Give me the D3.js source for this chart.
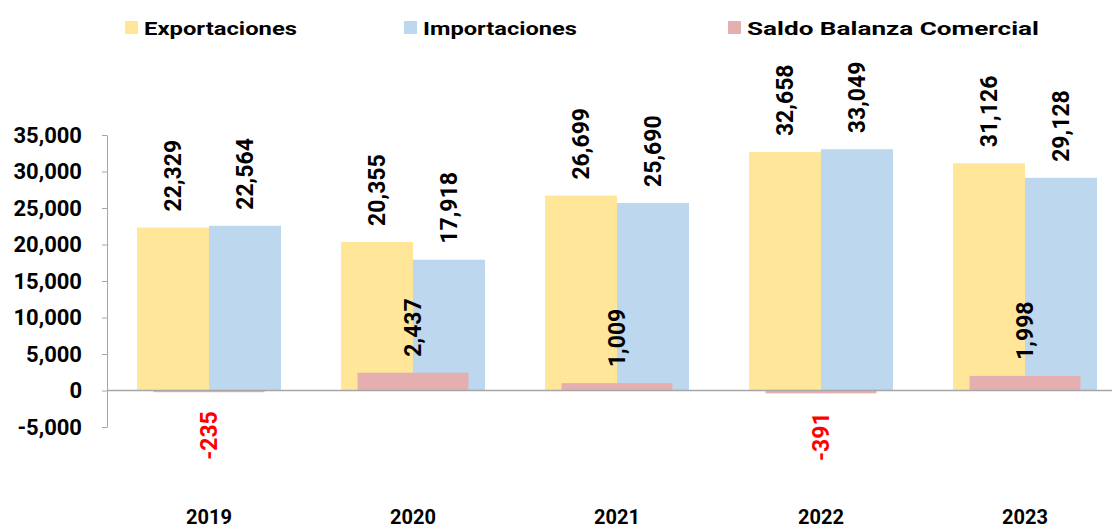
<!DOCTYPE html>
<html>
<head>
<meta charset="utf-8">
<script src="https://cdn.jsdelivr.net/npm/d3@7"></script>
<style>
  body { margin: 0; background: #fff; }
  #chart_container svg { display: block; }
</style>
</head>
<body>
<div id="chart_container"></div>
<script>
// values
const years = ["2019", "2020", "2021", "2022", "2023"];
const exportaciones = [22329, 20355, 26699, 32658, 31126];
const importaciones = [22564, 17918, 25690, 33049, 29128];
const saldo = [-235, 2437, 1009, -391, 1998];
const yTicks = [-5000, 0, 5000, 10000, 15000, 20000, 25000, 30000, 35000];
const seriesNames = ["Exportaciones", "Importaciones", "Saldo Balanza Comercial"];

const width = 1112, height = 529;
const colors = { exp: "#FFE699", imp: "#BDD7EE", sal: "#E6AFAF" };
const labelFont = "Roboto, 'Liberation Sans', sans-serif";

const svg = d3.select("#chart_container").append("svg")
    .attr("width", width)
    .attr("height", height)
    .attr("viewBox", [0, 0, width, height]);

// scales
const x = d3.scaleBand().domain(years).range([107, 1127]);
const xPair = d3.scaleBand().domain(["exp", "imp"])
    .range([0, x.bandwidth()]).paddingOuter(0.4167);
const xSaldo = d3.scaleBand().domain(["sal"])
    .range([0, x.bandwidth()]).paddingOuter(0.42);
const y = d3.scaleLinear().domain([-5000, 35000]).range([427, 135]);

// plain hyphen for negatives, like the original
const comma = d3.format(",");
const fmt = v => v < 0 ? "-" + comma(-v) : comma(v);

// y axis
const yAxis = g => g
    .attr("transform", `translate(${x.range()[0]},0)`)
    .call(d3.axisLeft(y).tickValues(yTicks).tickFormat(fmt).tickSize(5).tickSizeOuter(0).tickPadding(20))
    .call(g => g.select(".domain").attr("stroke", "#a6a6a6"))
    .call(g => g.selectAll(".tick line").attr("stroke", "#a6a6a6"))
    .call(g => g.selectAll(".tick text")
        .attr("font-family", labelFont)
        .attr("font-weight", 700)
        .attr("font-size", 22)
        .attr("fill", "#000"));

svg.append("g").call(yAxis);

// bars
const rows = years.map((yr, i) => ({ year: yr, exp: exportaciones[i], imp: importaciones[i], sal: saldo[i] }));

const groups = svg.append("g").selectAll("g")
    .data(rows)
    .join("g")
    .attr("transform", d => `translate(${x(d.year)},0)`);

["exp", "imp"].forEach(key => {
    groups.append("rect")
        .attr("x", xPair(key))
        .attr("width", xPair.bandwidth())
        .attr("y", d => y(Math.max(0, d[key])))
        .attr("height", d => Math.abs(y(d[key]) - y(0)))
        .attr("fill", colors[key]);
});

groups.append("rect")
    .attr("x", xSaldo("sal"))
    .attr("width", xSaldo.bandwidth())
    .attr("y", d => y(Math.max(0, d.sal)))
    .attr("height", d => Math.abs(y(d.sal) - y(0)))
    .attr("fill", colors.sal);

// zero line
svg.append("line")
    .attr("x1", x.range()[0]).attr("x2", x.range()[1])
    .attr("y1", y(0)).attr("y2", y(0))
    .attr("stroke", "#a6a6a6")
    .attr("stroke-width", 1.5);

// data labels, rotated
function addLabels(key, cxFn) {
    groups.append("text")
        .attr("transform", d => {
            const v = d[key];
            const ty = v >= 0 ? y(v) - 16 : y(v) + 19;
            return `translate(${cxFn()},${ty}) rotate(-90)`;
        })
        .attr("text-anchor", d => d[key] >= 0 ? "start" : "end")
        .attr("dy", "0.36em")
        .attr("font-family", labelFont)
        .attr("font-weight", 700)
        .attr("font-size", 23)
        .attr("fill", d => d[key] >= 0 ? "#000" : "#ff0000")
        .text(d => fmt(d[key]));
}
addLabels("exp", () => xPair("exp") + xPair.bandwidth() / 2);
addLabels("imp", () => xPair("imp") + xPair.bandwidth() / 2);
addLabels("sal", () => xSaldo("sal") + xSaldo.bandwidth() / 2);

// year labels
svg.append("g").selectAll("text")
    .data(years)
    .join("text")
    .attr("x", d => x(d) + x.bandwidth() / 2)
    .attr("y", 524)
    .attr("text-anchor", "middle")
    .attr("font-family", labelFont)
    .attr("font-weight", 700)
    .attr("font-size", 20)
    .attr("fill", "#000")
    .text(d => d);

// legend
const legendX = [125, 404, 728];
const legendW = [153, 154, 292];
const legendKeys = ["exp", "imp", "sal"];
const legend = svg.append("g").selectAll("g")
    .data(seriesNames)
    .join("g")
    .attr("transform", (d, i) => `translate(${legendX[i]},0)`);

legend.append("rect")
    .attr("x", 0).attr("y", 21)
    .attr("width", 13).attr("height", 13)
    .attr("fill", (d, i) => colors[legendKeys[i]]);

legend.append("text")
    .attr("x", 19)
    .attr("y", 35)
    .attr("font-family", labelFont)
    .attr("font-weight", 700)
    .attr("font-size", 19)
    .attr("fill", "#000")
    .attr("textLength", (d, i) => legendW[i])
    .attr("lengthAdjust", "spacingAndGlyphs")
    .text(d => d);
</script>
</body>
</html>
